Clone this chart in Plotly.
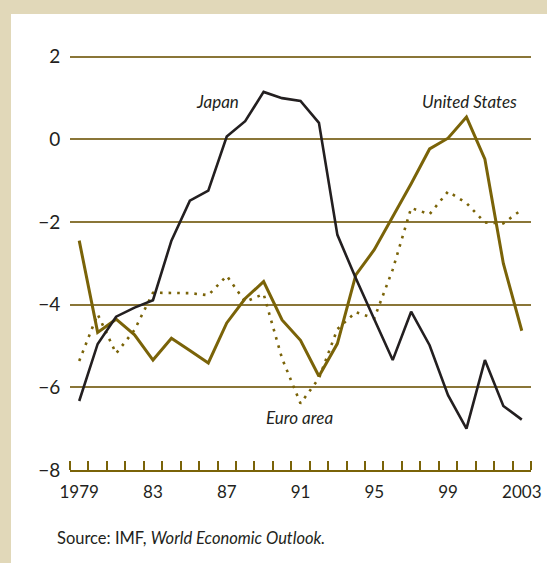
import plotly.graph_objects as go

YEARS = list(range(1979, 2004))

JAPAN = [-6.33, -4.95, -4.29, -4.07, -3.89, -2.45, -1.48, -1.24, 0.07, 0.44,
         1.15, 1.0, 0.93, 0.40, -2.31, -3.36, -4.35, -5.34, -4.17, -4.98,
         -6.19, -7.0, -5.34, -6.45, -6.78]
UNITED_STATES = [-2.45, -4.67, -4.35, -4.73, -5.34, -4.81, -5.11, -5.41, -4.44, -3.85,
                 -3.44, -4.37, -4.86, -5.73, -4.94, -3.28, -2.67, -1.88, -1.07, -0.23,
                 0.03, 0.54, -0.48, -3.0, -4.63]
EURO_AREA = [-5.36, -4.23, -5.18, -4.61, -3.71, -3.71, -3.72, -3.77, -3.30, -3.93,
             -3.74, -5.3, -6.39, -5.78, -4.59, -4.18, -4.33, -3.15, -1.66, -1.81,
             -1.26, -1.54, -2.01, -2.03, -1.70]

X_TICKS = [1979, 1983, 1987, 1991, 1995, 1999, 2003]
X_TICK_TEXT = ['1979', '83', '87', '91', '95', '99', '2003']
Y_TICKS = [2, 0, -2, -4, -6, -8]

OLIVE = '#7a6308'
GRID = '#8a7638'
INK = '#231f20'
BEIGE = '#e1d8b9'
FONT = 'Lato, sans-serif'

fig = go.Figure()

fig.add_trace(go.Scatter(x=YEARS, y=EURO_AREA, mode='lines', name='Euro area',
                         line=dict(color=OLIVE, width=2.6, dash='2.6px,6px')))
fig.add_trace(go.Scatter(x=YEARS, y=UNITED_STATES, mode='lines', name='United States',
                         line=dict(color=OLIVE, width=3)))
fig.add_trace(go.Scatter(x=YEARS, y=JAPAN, mode='lines', name='Japan',
                         line=dict(color=INK, width=2.6)))

# beige frame: white panel sitting on a beige page
fig.add_shape(type='rect', xref='paper', yref='paper', layer='below',
              x0=(11 - 70) / 461, x1=1.2, y0=-0.4, y1=(470 - 14) / 438,
              fillcolor='white', line=dict(width=0))

labels = [
    ('<i>Japan</i>', 1986.5, 0.91),
    ('<i>United States</i>', 2000.15, 0.91),
    ('<i>Euro area</i>', 1990.92, -6.74),
]
for text, x, y in labels:
    fig.add_annotation(text=text, x=x, y=y, showarrow=False,
                       font=dict(family=FONT, size=17, color=INK))

fig.add_annotation(text='Source: IMF, <i>World Economic Outlook.</i>',
                   xref='paper', yref='paper', x=(55 - 70) / 461, y=(470 - 538) / 438,
                   xanchor='left', yanchor='middle', showarrow=False,
                   font=dict(family=FONT, size=16.5, color=INK))

fig.update_layout(
    width=547, height=563,
    paper_bgcolor=BEIGE,
    plot_bgcolor='white',
    showlegend=False,
    margin=dict(l=70, r=16, t=32, b=93),
    font=dict(family=FONT, color=INK, size=17),
    xaxis=dict(
        range=[1978.5, 2003.5], automargin=False,
        tickmode='array', tickvals=X_TICKS, ticktext=X_TICK_TEXT,
        ticks='outside', ticklen=6, tickcolor='rgba(0,0,0,0)',
        showgrid=False, zeroline=False,
        showline=True, linecolor=OLIVE, linewidth=2,
        tickfont=dict(size=17, color=INK),
        minor=dict(tickmode='linear', tick0=1978.5, dtick=1,
                   ticks='inside', ticklen=9, tickwidth=1.5, tickcolor=OLIVE,
                   showgrid=False),
    ),
    yaxis=dict(
        range=[-8, 2.6], automargin=False,
        tickmode='array', tickvals=Y_TICKS,
        ticks='outside', ticklen=5, tickcolor='rgba(0,0,0,0)',
        showgrid=True, gridcolor=GRID, gridwidth=1.8,
        zeroline=False, showline=False,
        tickfont=dict(size=19, color=INK),
    ),
)

fig.write_html('out.html', config={'displayModeBar': False},
               post_script="document.body.style.margin='0';")
